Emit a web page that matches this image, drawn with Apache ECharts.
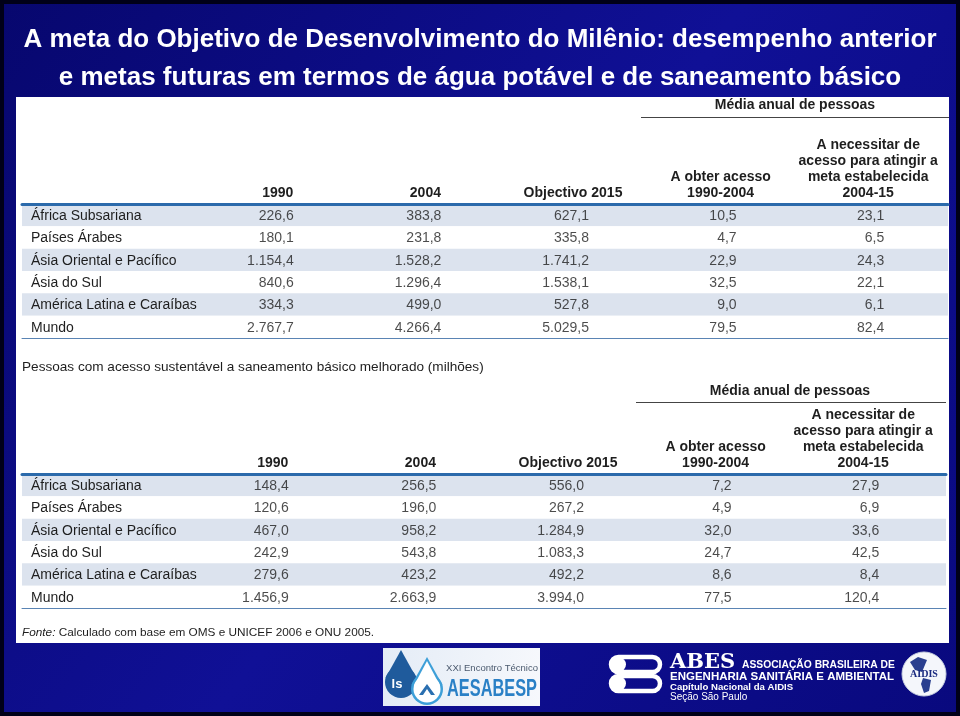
<!DOCTYPE html>
<html>
<head>
<meta charset="utf-8">
<script src="https://cdn.jsdelivr.net/npm/echarts@6/dist/echarts.min.js"></script>
<style>
html,body{margin:0;padding:0;background:#0a0a7c;}
#chart{width:960px;height:716px;}
</style>
</head>
<body>
<div id="chart"></div>
<script>
// ---- data ----
const regions = ['África Subsariana', 'Países Árabes', 'Ásia Oriental e Pacífico', 'Ásia do Sul', 'América Latina e Caraíbas', 'Mundo'];
const columnHeaders = ['1990', '2004', 'Objectivo 2015', 'A obter acesso\n1990-2004', 'A necessitar de\nacesso para atingir a\nmeta estabelecida\n2004-15'];

const water1990 = [226.6, 180.1, 1154.4, 840.6, 334.3, 2767.7];
const water2004 = [383.8, 231.8, 1528.2, 1296.4, 499.0, 4266.4];
const water2015 = [627.1, 335.8, 1741.2, 1538.1, 527.8, 5029.5];
const waterGained = [10.5, 4.7, 22.9, 32.5, 9.0, 79.5];
const waterNeeded = [23.1, 6.5, 24.3, 22.1, 6.1, 82.4];

const san1990 = [148.4, 120.6, 467.0, 242.9, 279.6, 1456.9];
const san2004 = [256.5, 196.0, 958.2, 543.8, 423.2, 2663.9];
const san2015 = [556.0, 267.2, 1284.9, 1083.3, 492.2, 3994.0];
const sanGained = [7.2, 4.9, 32.0, 24.7, 8.6, 77.5];
const sanNeeded = [27.9, 6.9, 33.6, 42.5, 8.4, 120.4];

const titleText = 'A meta do Objetivo de Desenvolvimento do Milênio: desempenho anterior\ne metas futuras em termos de água potável e de saneamento básico';
const groupHeader = 'Média anual de pessoas';
const sanSubtitle = 'Pessoas com acesso sustentável a saneamento básico melhorado (milhões)';
const sourceNote = 'Calculado com base em OMS e UNICEF 2006 e ONU 2005.';

// ---- helpers ----
function fmt(v) {
  const s = v.toFixed(1).split('.');
  return s[0].replace(/\B(?=(\d{3})+(?!\d))/g, '.') + ',' + s[1];
}
function cells(cols) {
  const out = [];
  cols.forEach((col, c) => col.forEach((v, r) => out.push([c, r, v])));
  return out;
}

const FONT = '"Liberation Sans", Arial, Helvetica, sans-serif';
const TXT = '#1e1e1e';

function tableAxes(gA, gB) {
  const xA = [
    { gridIndex: gA, type: 'category', data: [''], position: 'top', axisLine: { show: true, lineStyle: { color: '#2b6aab', width: 3 } }, axisTick: { show: false }, axisLabel: { show: false }, splitLine: { show: false } },
    { gridIndex: gA, type: 'category', data: [''], position: 'bottom', axisLine: { show: true, lineStyle: { color: '#5a84b4', width: 1 } }, axisTick: { show: false }, axisLabel: { show: false }, splitLine: { show: false } }
  ];
  const xB = { gridIndex: gB, type: 'category', data: columnHeaders, position: 'top', axisLine: { show: false }, axisTick: { show: false },
    axisLabel: { interval: 0, margin: 3, fontFamily: FONT, fontSize: 14, fontWeight: 'bold', color: TXT, lineHeight: 16, align: 'center' } };
  const yA = { gridIndex: gA, type: 'category', data: regions, inverse: true, axisLine: { show: false }, axisTick: { show: false },
    axisLabel: { inside: true, margin: 9, formatter: v => '{n|' + v + '}',
      rich: { n: { fontFamily: FONT, fontSize: 14, color: TXT, padding: [2, 0, 0, 0] } } },
    splitArea: { show: true, areaStyle: { color: ['#dce3ee', '#ffffff'] } }, splitLine: { show: false } };
  const yB = { gridIndex: gB, type: 'category', data: regions, inverse: true, show: false };
  return { xA, xB, yA, yB };
}

const t1 = tableAxes(0, 1);
const t2 = tableAxes(2, 3);

function valueSeries(xi, yi, cols) {
  return {
    type: 'scatter', xAxisIndex: xi, yAxisIndex: yi,
    symbolSize: 0.1, itemStyle: { color: 'transparent' }, silent: true,
    data: cells(cols),
    label: { show: true, position: 'inside', align: 'right', verticalAlign: 'middle', offset: [16, 1],
      fontFamily: FONT, fontSize: 14, color: TXT, formatter: p => fmt(p.value[2]) }
  };
}

// drop built from a circle and a triangle tip
function drop(cx, top, cy, r, fill, z) {
  return [
    { type: 'polygon', z: z, shape: { points: [[cx, top], [cx + r * 0.97, cy - r * 0.25], [cx - r * 0.97, cy - r * 0.25]] }, style: { fill: fill } },
    { type: 'circle', z: z, shape: { cx: cx, cy: cy, r: r }, style: { fill: fill } }
  ];
}

const chart = echarts.init(document.getElementById('chart'));
chart.setOption({
  animation: false,
  backgroundColor: { type: 'linear', x: 0, y: 0, x2: 1, y2: 1, colorStops: [
    { offset: 0, color: '#07076e' }, { offset: 0.5, color: '#101096' }, { offset: 1, color: '#09097e' } ] },
  title: { text: titleText, left: 'center', top: 21, padding: 0,
    textStyle: { color: '#ffffff', fontFamily: FONT, fontWeight: 'bold', fontSize: 26, lineHeight: 38, align: 'center' } },
  graphic: [
    { type: 'rect', z: -10, shape: { x: 0, y: 0, width: 960, height: 716 }, style: { fill: 'none', stroke: '#000018', lineWidth: 8 } },
    { type: 'rect', z: -5, shape: { x: 16, y: 97, width: 933, height: 546 }, style: { fill: '#ffffff' } },
    // table 1 group header
    { type: 'text', z: 5, style: { text: groupHeader, x: 795, y: 105, align: 'center', verticalAlign: 'middle', font: 'bold 14px ' + FONT, fill: TXT } },
    { type: 'line', z: 5, shape: { x1: 641, y1: 117.5, x2: 949, y2: 117.5 }, style: { stroke: '#444', lineWidth: 1 } },
    // table 2 subtitle + group header
    { type: 'text', z: 5, style: { text: sanSubtitle, x: 22, y: 367, align: 'left', verticalAlign: 'middle', font: '13.6px ' + FONT, fill: TXT } },
    { type: 'text', z: 5, style: { text: groupHeader, x: 790, y: 391, align: 'center', verticalAlign: 'middle', font: 'bold 14px ' + FONT, fill: TXT } },
    { type: 'line', z: 5, shape: { x1: 636, y1: 402.5, x2: 946, y2: 402.5 }, style: { stroke: '#444', lineWidth: 1 } },
    // source
    { type: 'text', z: 5, style: { text: '{i|Fonte:} ' + sourceNote, x: 22, y: 633, align: 'left', verticalAlign: 'middle', font: '11.8px ' + FONT, fill: TXT,
      rich: { i: { fontStyle: 'italic', fontSize: 11.8, fontFamily: FONT, fill: TXT } } } },
    // AESABESP logo
    { type: 'rect', z: 5, shape: { x: 383, y: 648, width: 157, height: 58 }, style: { fill: { type: 'linear', x: 0, y: 0, x2: 1, y2: 0, colorStops: [{ offset: 0, color: '#e4ecf6' }, { offset: 1, color: '#f6f8fc' }] } } },
    ...drop(401, 650, 682, 16, '#1f5b9c', 6),
    ...drop(427, 657, 689, 16, '#3d9fd8', 7),
    ...drop(427, 661, 689, 13.5, '#ffffff', 7),
    { type: 'text', z: 8, style: { text: 'ls', x: 397, y: 684, align: 'center', verticalAlign: 'middle', font: 'bold 13px ' + FONT, fill: '#ffffff' } },
    { type: 'polygon', z: 8, shape: { points: [[419, 695], [427, 684], [435, 695], [431, 695], [427, 689], [423, 695]] }, style: { fill: '#2a6fb0' } },
    { type: 'text', z: 8, style: { text: 'XXI Encontro Técnico', x: 492, y: 668, align: 'center', verticalAlign: 'middle', font: '9.5px ' + FONT, fill: '#4b5a6e' } },
    { type: 'text', z: 8, scaleX: 0.71, originX: 492, originY: 690, style: { text: 'AESABESP', x: 492, y: 690, align: 'center', verticalAlign: 'middle', font: 'bold 23px ' + FONT, fill: '#2a80c6' } },
    // ABES logo
    { type: 'rect', z: 5, shape: { x: 611, y: 657, width: 49, height: 15, r: 7.5 }, style: { fill: 'none', stroke: '#ffffff', lineWidth: 4.5 } },
    { type: 'rect', z: 5, shape: { x: 611, y: 676, width: 49, height: 15, r: 7.5 }, style: { fill: 'none', stroke: '#ffffff', lineWidth: 4.5 } },
    { type: 'circle', z: 5, shape: { cx: 619, cy: 664.5, r: 7 }, style: { fill: '#ffffff' } },
    { type: 'circle', z: 5, shape: { cx: 619, cy: 683.5, r: 7 }, style: { fill: '#ffffff' } },
    { type: 'text', z: 5, style: { text: 'ABES', x: 670, y: 663, align: 'left', verticalAlign: 'middle', font: 'bold 21px "DejaVu Serif", serif', fill: '#ffffff' } },
    { type: 'text', z: 5, style: { text: 'ASSOCIAÇÃO BRASILEIRA DE', x: 742, y: 665, align: 'left', verticalAlign: 'middle', font: 'bold 10.3px ' + FONT, fill: '#ffffff' } },
    { type: 'text', z: 5, style: { text: 'ENGENHARIA SANITÁRIA E AMBIENTAL', x: 670, y: 677, align: 'left', verticalAlign: 'middle', font: 'bold 11.5px ' + FONT, fill: '#ffffff' } },
    { type: 'text', z: 5, style: { text: 'Capítulo Nacional da AIDIS', x: 670, y: 687.5, align: 'left', verticalAlign: 'middle', font: 'bold 9.6px ' + FONT, fill: '#ffffff' } },
    { type: 'text', z: 5, style: { text: 'Seção São Paulo', x: 670, y: 697.5, align: 'left', verticalAlign: 'middle', font: '10px ' + FONT, fill: '#ffffff' } },
    { type: 'circle', z: 5, shape: { cx: 924, cy: 674, r: 22 }, style: { fill: '#f4f6fb', stroke: '#c8d0e0', lineWidth: 1 } },
    { type: 'polygon', z: 6, shape: { points: [[910, 662], [918, 657], [927, 660], [922, 672], [915, 670]] }, style: { fill: '#2a3f8f' } },
    { type: 'polygon', z: 6, shape: { points: [[923, 678], [931, 680], [929, 691], [924, 693], [921, 684]] }, style: { fill: '#2a3f8f' } },
    { type: 'text', z: 7, style: { text: 'AIDIS', x: 924, y: 674, align: 'center', verticalAlign: 'middle', font: 'bold 10px "Liberation Serif", serif', fill: '#1a2a80' } }
  ],
  grid: [
    { left: 22, right: 12, top: 204, height: 134 },
    { left: 204, right: 18, top: 204, height: 134 },
    { left: 22, right: 14, top: 474, height: 134 },
    { left: 199, right: 23, top: 474, height: 134 }
  ],
  xAxis: [t1.xA[0], t1.xA[1], t1.xB, t2.xA[0], t2.xA[1], t2.xB],
  yAxis: [t1.yA, t1.yB, t2.yA, t2.yB],
  series: [
    valueSeries(2, 1, [water1990, water2004, water2015, waterGained, waterNeeded]),
    valueSeries(5, 3, [san1990, san2004, san2015, sanGained, sanNeeded])
  ]
});
</script>
</body>
</html>
